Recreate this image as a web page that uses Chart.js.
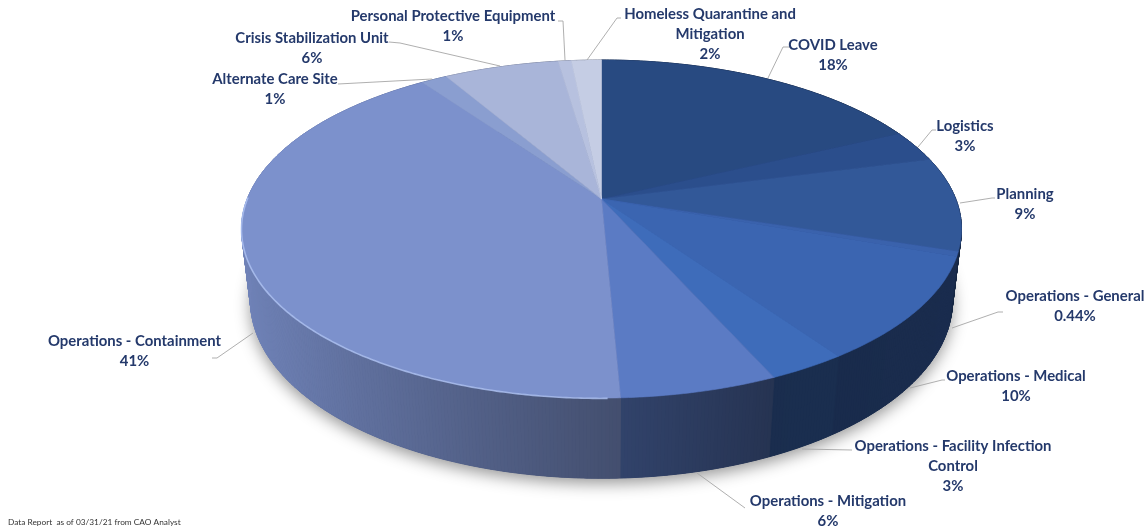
<!DOCTYPE html>
<html><head><meta charset="utf-8">
<style>html,body{margin:0;padding:0;background:#fff}canvas{display:block}</style>
<script src="https://cdn.jsdelivr.net/npm/chart.js@4"></script>
</head><body><canvas id="c" width="1147" height="529"></canvas>
<script>
const categories=["COVID Leave","Logistics","Planning","Operations - General","Operations - Medical","Operations - Facility Infection Control","Operations - Mitigation","Operations - Containment","Alternate Care Site","Crisis Stabilization Unit","Personal Protective Equipment","Homeless Quarantine and Mitigation"];
const values=[18,3,9,0.44,10,3,6,41,1.4,6.15,0.7,1.6];
const percentLabels=["18%","3%","9%","0.44%","10%","3%","6%","41%","1%","6%","1%","2%"];
const colors=["#284a81","#2b4e8c","#325898","#3a62ac","#3b65b1","#3e6cba","#5b7bc4","#7c91cc","#8a9ed0","#a9b5d9","#b7c1df","#c5cde4"];
const labelLines=[["COVID Leave"],["Logistics"],["Planning"],["Operations - General"],["Operations - Medical"],["Operations - Facility Infection","Control"],["Operations - Mitigation"],["Operations - Containment"],["Alternate Care Site"],["Crisis Stabilization Unit"],["Personal Protective Equipment"],["Homeless Quarantine and","Mitigation"]];
const labelPos=[[833,45],[965,126],[1025,194],[1075,296],[1016,376],[953,446],[828,501],[134.5,341],[275,79],[312,38],[453,16],[710,14]];
const leaders=[[[768,78],[783,47],[790,47]],[[918,147],[932,130],[936,130]],[[960,203],[992,198],[995,198]],[[952,328],[998,312],[1003,312]],[[910,388],[942,380],[945,380]],[[802,449],[852,450]],[[697,473],[745,508]],[[253,333],[217,358],[212,358]],[[432,79],[338,84]],[[500,66],[400,43],[389,42]],[[565,60],[563,21],[558,21]],[[587,60],[617,18],[621,18]]];
const footnote="Data Report  as of 03/31/21 from CAO Analyst";
const textColor="#24396b";
const view={cx:601.5,cy:199,a:354.3,b:163.7,k:0.1775,h:73,m:0.025};
const shadeStops=[[241,.90],[350,.78],[480,.66],[600,.56],[700,.48],[772,.42],[961,.44]];

function project(t,depth){ // t: clockwise angle from the top; depth 0 = top face, 1 = bottom face
  const u=Math.sin(t),v=-Math.cos(t),w=1-view.k*v+view.m*depth;
  return [view.cx+view.a*u/w, view.cy+(view.b*v+view.h*depth)/w];
}
function shadeAt(x){
  for(let i=1;i<shadeStops.length;i++){
    const A=shadeStops[i-1],B=shadeStops[i];
    if(x<=B[0]){const f=Math.max(0,(x-A[0])/(B[0]-A[0]));return A[1]+(B[1]-A[1])*f;}
  }
  return shadeStops[shadeStops.length-1][1];
}
function shaded(hex,s){
  const n=parseInt(hex.slice(1),16);
  return `rgb(${Math.round((n>>16&255)*s)},${Math.round((n>>8&255)*s)},${Math.round((n&255)*s)})`;
}
const pie3d={id:'pie3d',
  beforeDatasetDraw(chart,args){
    const ctx=chart.ctx,arcs=chart.getDatasetMeta(args.index).data;
    const STEP=Math.PI/360;
    // soft shadow below the pie
    ctx.save();
    ctx.shadowColor='rgba(0,0,0,.42)';ctx.shadowBlur=16;ctx.shadowOffsetY=5;ctx.fillStyle='#1b2f5a';
    ctx.beginPath();
    for(let t=0;t<Math.PI*2;t+=STEP){const p=project(t,1);ctx.lineTo(p[0],p[1]);}
    ctx.closePath();ctx.fill();ctx.restore();
    // outer wall
    const quads=[];
    arcs.forEach((arc,i)=>{
      const s=arc.startAngle+Math.PI/2,e=arc.endAngle+Math.PI/2;
      for(let t=s;t<e;t+=STEP)quads.push([t,Math.min(t+STEP,e),i]);
    });
    quads.sort((q,r)=>Math.cos(r[0])-Math.cos(q[0]));
    ctx.lineWidth=1;
    quads.forEach(([t0,t1,i])=>{
      const a=project(t0,0),b=project(t1,0),c=project(t1,1),d=project(t0,1);
      const col=shaded(colors[i],shadeAt((a[0]+b[0])/2));
      ctx.fillStyle=col;ctx.strokeStyle=col;
      ctx.beginPath();ctx.moveTo(a[0],a[1]);ctx.lineTo(b[0],b[1]);ctx.lineTo(c[0],c[1]);ctx.lineTo(d[0],d[1]);ctx.closePath();ctx.fill();ctx.stroke();
    });
    // top face
    const apex=[view.cx,view.cy];
    arcs.forEach((arc,i)=>{
      const s=arc.startAngle+Math.PI/2,e=arc.endAngle+Math.PI/2;
      ctx.beginPath();ctx.moveTo(apex[0],apex[1]);
      for(let t=s;t<e;t+=STEP){const p=project(t,0);ctx.lineTo(p[0],p[1]);}
      const p=project(e,0);ctx.lineTo(p[0],p[1]);ctx.closePath();
      ctx.fillStyle=colors[i];ctx.strokeStyle=colors[i];ctx.lineWidth=.6;ctx.fill();ctx.stroke();
    });
    // bevel highlight along the near-left rim
    const hl=arcs[7];
    ctx.strokeStyle='rgba(176,196,244,.8)';ctx.lineWidth=1.6;
    ctx.beginPath();
    for(let t=hl.startAngle+Math.PI/2+.03;t<Math.PI*1.5+.02;t+=STEP){const p=project(t,0);ctx.lineTo(p[0],p[1]+.4);}
    ctx.stroke();
    return false;
  },
  afterDatasetsDraw(chart){
    const ctx=chart.ctx;
    ctx.save();
    ctx.strokeStyle='#a6a6a6';ctx.lineWidth=.9;
    leaders.forEach(pts=>{ctx.beginPath();pts.forEach(p=>ctx.lineTo(p[0],p[1]));ctx.stroke();});
    ctx.fillStyle=textColor;ctx.font='bold 14.9px Lato';ctx.textAlign='center';ctx.textBaseline='middle';
    labelLines.forEach((lines,i)=>{
      const [x,y]=labelPos[i];
      lines.concat([percentLabels[i]]).forEach((l,j)=>ctx.fillText(l,x,y+j*20));
    });
    ctx.fillStyle='#333';ctx.font='8.3px Lato';ctx.textAlign='left';ctx.fillText(footnote,8,522);
    ctx.restore();
  }
};
new Chart(document.getElementById('c'),{
  type:'pie',
  data:{labels:categories,datasets:[{data:values,backgroundColor:colors,borderWidth:0}]},
  options:{responsive:false,animation:false,devicePixelRatio:1,plugins:{legend:{display:false},tooltip:{enabled:false}}},
  plugins:[pie3d]
});
</script></body></html>
